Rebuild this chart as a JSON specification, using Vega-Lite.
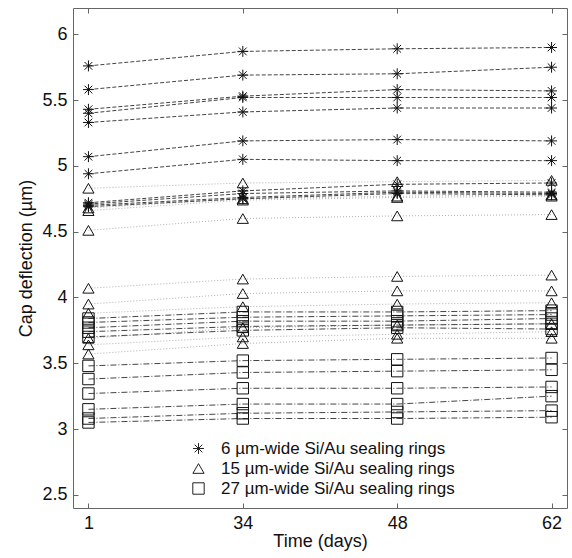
{
 "$schema": "https://vega.github.io/schema/vega-lite/v6.json",
 "width": 494,
 "height": 500,
 "autosize": "none",
 "padding": {"left": 73, "top": 8, "right": 5, "bottom": 50},
 "config": {
  "view": {"stroke": "#666", "strokeWidth": 1},
  "font": "Liberation Sans",
  "axis": {"labelFontSize": 18, "titleFontSize": 18, "titleFontWeight": "normal", "labelColor": "#111", "titleColor": "#111", "tickColor": "#666", "domain": false, "grid": false, "tickSize": -5, "labelFont": "Liberation Sans", "titleFont": "Liberation Sans"},
  "legend": {"orient": "none", "legendX": 117, "legendY": 432, "title": null, "labelFont": "Liberation Sans", "labelFontSize": 17, "labelColor": "#111", "labelOffset": 14, "labelLimit": 400, "rowPadding": 2, "symbolStrokeColor": "#222", "symbolFillColor": "transparent", "symbolStrokeWidth": 1}
 },
 "data": {"values": [
  {"s":"A1","ring":"6 µm-wide Si/Au sealing rings","day":1,"v":5.76},{"s":"A1","ring":"6 µm-wide Si/Au sealing rings","day":34,"v":5.87},{"s":"A1","ring":"6 µm-wide Si/Au sealing rings","day":48,"v":5.89},{"s":"A1","ring":"6 µm-wide Si/Au sealing rings","day":62,"v":5.90},
  {"s":"A2","ring":"6 µm-wide Si/Au sealing rings","day":1,"v":5.58},{"s":"A2","ring":"6 µm-wide Si/Au sealing rings","day":34,"v":5.69},{"s":"A2","ring":"6 µm-wide Si/Au sealing rings","day":48,"v":5.70},{"s":"A2","ring":"6 µm-wide Si/Au sealing rings","day":62,"v":5.75},
  {"s":"A3","ring":"6 µm-wide Si/Au sealing rings","day":1,"v":5.43},{"s":"A3","ring":"6 µm-wide Si/Au sealing rings","day":34,"v":5.53},{"s":"A3","ring":"6 µm-wide Si/Au sealing rings","day":48,"v":5.58},{"s":"A3","ring":"6 µm-wide Si/Au sealing rings","day":62,"v":5.57},
  {"s":"A4","ring":"6 µm-wide Si/Au sealing rings","day":1,"v":5.40},{"s":"A4","ring":"6 µm-wide Si/Au sealing rings","day":34,"v":5.52},{"s":"A4","ring":"6 µm-wide Si/Au sealing rings","day":48,"v":5.52},{"s":"A4","ring":"6 µm-wide Si/Au sealing rings","day":62,"v":5.52},
  {"s":"A5","ring":"6 µm-wide Si/Au sealing rings","day":1,"v":5.33},{"s":"A5","ring":"6 µm-wide Si/Au sealing rings","day":34,"v":5.41},{"s":"A5","ring":"6 µm-wide Si/Au sealing rings","day":48,"v":5.44},{"s":"A5","ring":"6 µm-wide Si/Au sealing rings","day":62,"v":5.44},
  {"s":"A6","ring":"6 µm-wide Si/Au sealing rings","day":1,"v":5.07},{"s":"A6","ring":"6 µm-wide Si/Au sealing rings","day":34,"v":5.19},{"s":"A6","ring":"6 µm-wide Si/Au sealing rings","day":48,"v":5.20},{"s":"A6","ring":"6 µm-wide Si/Au sealing rings","day":62,"v":5.19},
  {"s":"A7","ring":"6 µm-wide Si/Au sealing rings","day":1,"v":4.94},{"s":"A7","ring":"6 µm-wide Si/Au sealing rings","day":34,"v":5.05},{"s":"A7","ring":"6 µm-wide Si/Au sealing rings","day":48,"v":5.04},{"s":"A7","ring":"6 µm-wide Si/Au sealing rings","day":62,"v":5.04},
  {"s":"A8","ring":"6 µm-wide Si/Au sealing rings","day":1,"v":4.72},{"s":"A8","ring":"6 µm-wide Si/Au sealing rings","day":34,"v":4.81},{"s":"A8","ring":"6 µm-wide Si/Au sealing rings","day":48,"v":4.86},{"s":"A8","ring":"6 µm-wide Si/Au sealing rings","day":62,"v":4.87},
  {"s":"A9","ring":"6 µm-wide Si/Au sealing rings","day":1,"v":4.71},{"s":"A9","ring":"6 µm-wide Si/Au sealing rings","day":34,"v":4.79},{"s":"A9","ring":"6 µm-wide Si/Au sealing rings","day":48,"v":4.81},{"s":"A9","ring":"6 µm-wide Si/Au sealing rings","day":62,"v":4.80},
  {"s":"A10","ring":"6 µm-wide Si/Au sealing rings","day":1,"v":4.70},{"s":"A10","ring":"6 µm-wide Si/Au sealing rings","day":34,"v":4.76},{"s":"A10","ring":"6 µm-wide Si/Au sealing rings","day":48,"v":4.80},{"s":"A10","ring":"6 µm-wide Si/Au sealing rings","day":62,"v":4.79},
  {"s":"A11","ring":"6 µm-wide Si/Au sealing rings","day":1,"v":4.69},{"s":"A11","ring":"6 µm-wide Si/Au sealing rings","day":34,"v":4.75},{"s":"A11","ring":"6 µm-wide Si/Au sealing rings","day":48,"v":4.79},{"s":"A11","ring":"6 µm-wide Si/Au sealing rings","day":62,"v":4.78},
  {"s":"B1","ring":"15 µm-wide Si/Au sealing rings","day":1,"v":4.83},{"s":"B1","ring":"15 µm-wide Si/Au sealing rings","day":34,"v":4.87},{"s":"B1","ring":"15 µm-wide Si/Au sealing rings","day":48,"v":4.88},{"s":"B1","ring":"15 µm-wide Si/Au sealing rings","day":62,"v":4.89},
  {"s":"B2","ring":"15 µm-wide Si/Au sealing rings","day":1,"v":4.68},{"s":"B2","ring":"15 µm-wide Si/Au sealing rings","day":34,"v":4.75},{"s":"B2","ring":"15 µm-wide Si/Au sealing rings","day":48,"v":4.77},{"s":"B2","ring":"15 µm-wide Si/Au sealing rings","day":62,"v":4.78},
  {"s":"B3","ring":"15 µm-wide Si/Au sealing rings","day":1,"v":4.66},{"s":"B3","ring":"15 µm-wide Si/Au sealing rings","day":34,"v":4.74},{"s":"B3","ring":"15 µm-wide Si/Au sealing rings","day":48,"v":4.76},{"s":"B3","ring":"15 µm-wide Si/Au sealing rings","day":62,"v":4.77},
  {"s":"B4","ring":"15 µm-wide Si/Au sealing rings","day":1,"v":4.51},{"s":"B4","ring":"15 µm-wide Si/Au sealing rings","day":34,"v":4.60},{"s":"B4","ring":"15 µm-wide Si/Au sealing rings","day":48,"v":4.62},{"s":"B4","ring":"15 µm-wide Si/Au sealing rings","day":62,"v":4.63},
  {"s":"B5","ring":"15 µm-wide Si/Au sealing rings","day":1,"v":4.07},{"s":"B5","ring":"15 µm-wide Si/Au sealing rings","day":34,"v":4.14},{"s":"B5","ring":"15 µm-wide Si/Au sealing rings","day":48,"v":4.16},{"s":"B5","ring":"15 µm-wide Si/Au sealing rings","day":62,"v":4.17},
  {"s":"B6","ring":"15 µm-wide Si/Au sealing rings","day":1,"v":3.95},{"s":"B6","ring":"15 µm-wide Si/Au sealing rings","day":34,"v":4.03},{"s":"B6","ring":"15 µm-wide Si/Au sealing rings","day":48,"v":4.05},{"s":"B6","ring":"15 µm-wide Si/Au sealing rings","day":62,"v":4.05},
  {"s":"B7","ring":"15 µm-wide Si/Au sealing rings","day":1,"v":3.88},{"s":"B7","ring":"15 µm-wide Si/Au sealing rings","day":34,"v":3.93},{"s":"B7","ring":"15 µm-wide Si/Au sealing rings","day":48,"v":3.95},{"s":"B7","ring":"15 µm-wide Si/Au sealing rings","day":62,"v":3.96},
  {"s":"B8","ring":"15 µm-wide Si/Au sealing rings","day":1,"v":3.69},{"s":"B8","ring":"15 µm-wide Si/Au sealing rings","day":34,"v":3.77},{"s":"B8","ring":"15 µm-wide Si/Au sealing rings","day":48,"v":3.79},{"s":"B8","ring":"15 µm-wide Si/Au sealing rings","day":62,"v":3.80},
  {"s":"B9","ring":"15 µm-wide Si/Au sealing rings","day":1,"v":3.64},{"s":"B9","ring":"15 µm-wide Si/Au sealing rings","day":34,"v":3.70},{"s":"B9","ring":"15 µm-wide Si/Au sealing rings","day":48,"v":3.72},{"s":"B9","ring":"15 µm-wide Si/Au sealing rings","day":62,"v":3.74},
  {"s":"B10","ring":"15 µm-wide Si/Au sealing rings","day":1,"v":3.57},{"s":"B10","ring":"15 µm-wide Si/Au sealing rings","day":34,"v":3.65},{"s":"B10","ring":"15 µm-wide Si/Au sealing rings","day":48,"v":3.69},{"s":"B10","ring":"15 µm-wide Si/Au sealing rings","day":62,"v":3.69},
  {"s":"C1","ring":"27 µm-wide Si/Au sealing rings","day":1,"v":3.84},{"s":"C1","ring":"27 µm-wide Si/Au sealing rings","day":34,"v":3.89},{"s":"C1","ring":"27 µm-wide Si/Au sealing rings","day":48,"v":3.89},{"s":"C1","ring":"27 µm-wide Si/Au sealing rings","day":62,"v":3.90},
  {"s":"C2","ring":"27 µm-wide Si/Au sealing rings","day":1,"v":3.81},{"s":"C2","ring":"27 µm-wide Si/Au sealing rings","day":34,"v":3.85},{"s":"C2","ring":"27 µm-wide Si/Au sealing rings","day":48,"v":3.86},{"s":"C2","ring":"27 µm-wide Si/Au sealing rings","day":62,"v":3.87},
  {"s":"C3","ring":"27 µm-wide Si/Au sealing rings","day":1,"v":3.77},{"s":"C3","ring":"27 µm-wide Si/Au sealing rings","day":34,"v":3.82},{"s":"C3","ring":"27 µm-wide Si/Au sealing rings","day":48,"v":3.82},{"s":"C3","ring":"27 µm-wide Si/Au sealing rings","day":62,"v":3.84},
  {"s":"C4","ring":"27 µm-wide Si/Au sealing rings","day":1,"v":3.74},{"s":"C4","ring":"27 µm-wide Si/Au sealing rings","day":34,"v":3.78},{"s":"C4","ring":"27 µm-wide Si/Au sealing rings","day":48,"v":3.79},{"s":"C4","ring":"27 µm-wide Si/Au sealing rings","day":62,"v":3.80},
  {"s":"C5","ring":"27 µm-wide Si/Au sealing rings","day":1,"v":3.70},{"s":"C5","ring":"27 µm-wide Si/Au sealing rings","day":34,"v":3.75},{"s":"C5","ring":"27 µm-wide Si/Au sealing rings","day":48,"v":3.77},{"s":"C5","ring":"27 µm-wide Si/Au sealing rings","day":62,"v":3.76},
  {"s":"C6","ring":"27 µm-wide Si/Au sealing rings","day":1,"v":3.48},{"s":"C6","ring":"27 µm-wide Si/Au sealing rings","day":34,"v":3.52},{"s":"C6","ring":"27 µm-wide Si/Au sealing rings","day":48,"v":3.53},{"s":"C6","ring":"27 µm-wide Si/Au sealing rings","day":62,"v":3.54},
  {"s":"C7","ring":"27 µm-wide Si/Au sealing rings","day":1,"v":3.38},{"s":"C7","ring":"27 µm-wide Si/Au sealing rings","day":34,"v":3.43},{"s":"C7","ring":"27 µm-wide Si/Au sealing rings","day":48,"v":3.44},{"s":"C7","ring":"27 µm-wide Si/Au sealing rings","day":62,"v":3.45},
  {"s":"C8","ring":"27 µm-wide Si/Au sealing rings","day":1,"v":3.27},{"s":"C8","ring":"27 µm-wide Si/Au sealing rings","day":34,"v":3.31},{"s":"C8","ring":"27 µm-wide Si/Au sealing rings","day":48,"v":3.31},{"s":"C8","ring":"27 µm-wide Si/Au sealing rings","day":62,"v":3.32},
  {"s":"C9","ring":"27 µm-wide Si/Au sealing rings","day":1,"v":3.15},{"s":"C9","ring":"27 µm-wide Si/Au sealing rings","day":34,"v":3.19},{"s":"C9","ring":"27 µm-wide Si/Au sealing rings","day":48,"v":3.19},{"s":"C9","ring":"27 µm-wide Si/Au sealing rings","day":62,"v":3.25},
  {"s":"C10","ring":"27 µm-wide Si/Au sealing rings","day":1,"v":3.08},{"s":"C10","ring":"27 µm-wide Si/Au sealing rings","day":34,"v":3.12},{"s":"C10","ring":"27 µm-wide Si/Au sealing rings","day":48,"v":3.13},{"s":"C10","ring":"27 µm-wide Si/Au sealing rings","day":62,"v":3.14},
  {"s":"C11","ring":"27 µm-wide Si/Au sealing rings","day":1,"v":3.05},{"s":"C11","ring":"27 µm-wide Si/Au sealing rings","day":34,"v":3.08},{"s":"C11","ring":"27 µm-wide Si/Au sealing rings","day":48,"v":3.08},{"s":"C11","ring":"27 µm-wide Si/Au sealing rings","day":62,"v":3.09}
 ]},
 "layer": [
  {
   "transform": [{"filter": "datum.ring === '15 µm-wide Si/Au sealing rings'"}],
   "mark": {"type": "line", "strokeWidth": 1, "stroke": "#b0b0b0", "strokeDash": [1, 2]},
   "encoding": {
    "x": {"field": "day", "type": "ordinal", "scale": {"type": "point", "padding": 0.1}, "axis": {"orient": "bottom", "title": "Time (days)", "labelAngle": 0, "labelPadding": 11, "titlePadding": 0}},
    "y": {"field": "v", "type": "quantitative", "scale": {"domain": [2.4, 6.2], "zero": false, "nice": false}, "axis": {"orient": "left", "title": "Cap deflection (µm)", "values": [2.5, 3, 3.5, 4, 4.5, 5, 5.5, 6], "format": "~g", "labelPadding": 11, "titlePadding": 6}},
    "detail": {"field": "s"}
   }
  },
  {
   "transform": [{"filter": "datum.ring === '27 µm-wide Si/Au sealing rings'"}],
   "mark": {"type": "line", "strokeWidth": 1, "stroke": "#444444", "strokeDash": [6, 2, 1, 2]},
   "encoding": {
    "x": {"field": "day", "type": "ordinal", "axis": null},
    "y": {"field": "v", "type": "quantitative", "axis": null},
    "detail": {"field": "s"}
   }
  },
  {
   "transform": [{"filter": "datum.ring === '6 µm-wide Si/Au sealing rings'"}],
   "mark": {"type": "line", "strokeWidth": 1, "stroke": "#444444", "strokeDash": [4, 2]},
   "encoding": {
    "x": {"field": "day", "type": "ordinal", "axis": null},
    "y": {"field": "v", "type": "quantitative", "axis": null},
    "detail": {"field": "s"}
   }
  },
  {
   "mark": {"type": "point", "filled": false, "strokeWidth": 1, "color": "#111", "opacity": 1},
   "encoding": {
    "x": {"field": "day", "type": "ordinal", "axis": {"orient": "top", "labels": false, "title": null}},
    "y": {"field": "v", "type": "quantitative", "axis": {"orient": "right", "labels": false, "title": null, "values": [2.5, 3, 3.5, 4, 4.5, 5, 5.5, 6]}},
    "shape": {"field": "ring", "type": "nominal", "title": null,
      "scale": {"domain": ["6 µm-wide Si/Au sealing rings", "15 µm-wide Si/Au sealing rings", "27 µm-wide Si/Au sealing rings"], "range": ["M-1,0L1,0M0,-1L0,1M-0.7,-0.7L0.7,0.7M-0.7,0.7L0.7,-0.7", "triangle-up", "square"]}},
    "size": {"field": "ring", "type": "nominal", "title": null,
      "scale": {"domain": ["6 µm-wide Si/Au sealing rings", "15 µm-wide Si/Au sealing rings", "27 µm-wide Si/Au sealing rings"], "range": [120, 130, 55]}}
   }
  }
 ],
 "resolve": {"axis": {"x": "independent", "y": "independent"}}
}
